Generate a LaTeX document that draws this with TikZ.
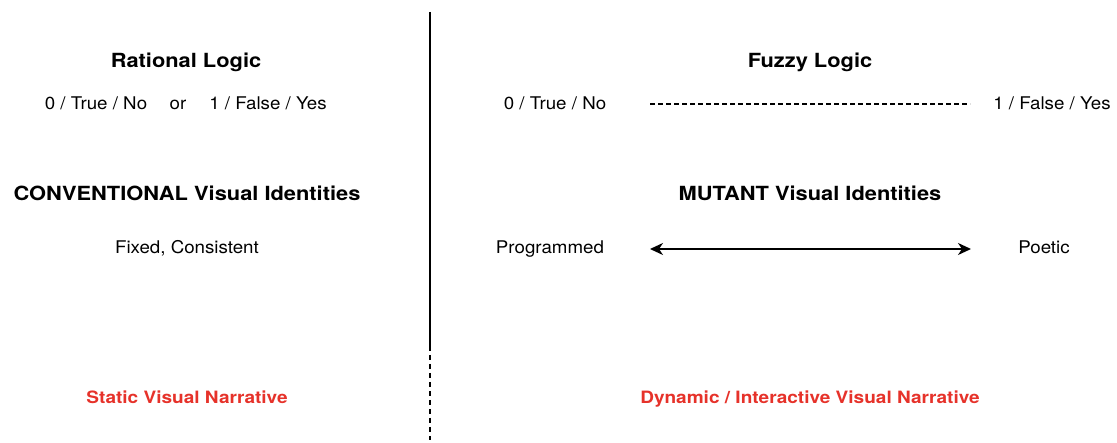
\documentclass[tikz,border=0pt]{standalone}
\usepackage{fontspec}
\setmainfont{TeX Gyre Heros}[FakeStretch=1.07,BoldFeatures={FakeStretch=1.12}]
\usetikzlibrary{arrows.meta}
\definecolor{narrred}{RGB}{230,50,42}
\tikzset{
  heading/.style={anchor=base,inner sep=0pt,font=\fontsize{19.5}{22}\selectfont\bfseries},
  plain/.style={anchor=base,inner sep=0pt,font=\fontsize{17.5}{20}\selectfont},
  narrative/.style={anchor=base,inner sep=0pt,text=narrred,font=\fontsize{17}{20}\selectfont\bfseries},
  divider/.style={line width=2pt},
  fuzzyline/.style={line width=1.5pt,dash pattern=on 5pt off 3pt},
  spectrum/.style={line width=2pt,{Stealth[length=13pt,width=12pt,inset=4pt]}-{Stealth[length=13pt,width=12pt,inset=4pt]}}
}
\begin{document}
\begin{tikzpicture}[x=1pt,y=-1pt]
\useasboundingbox (0,0) rectangle (1117,443);

% centre divider: solid, then dashed towards the narrative row
\coordinate (divtop) at (430,12);
\coordinate (divmid) at (430,351);
\coordinate (divdash) at (430,355);
\coordinate (divbot) at (430,440);
\draw[divider] (divtop) -- (divmid);
\draw[line width=2pt,dash pattern=on 5pt off 4pt] (divdash) -- (divbot);

% left column: rational logic
\node[heading] (rlogic) at (186,68) {Rational Logic};
\node[plain] (rzero) at (96,109.5) {0 / True / No};
\node[plain] (ror) at (178,109.5) {or};
\node[plain] (rone) at (268,109.5) {1 / False / Yes};
\node[heading] (conv) at (187,201) {CONVENTIONAL Visual Identities};
\node[plain] (fixed) at (187,254) {Fixed, Consistent};
\node[narrative] (static) at (187,403.5) {Static Visual Narrative};

% right column: fuzzy logic
\node[heading] (flogic) at (810,68) {Fuzzy Logic};
\node[plain] (fzero) at (555,109.5) {0 / True / No};
\node[plain] (fone) at (1052,109.5) {1 / False / Yes};
\coordinate (fzl) at (650,104);
\coordinate (fzr) at (970,104);
\draw[fuzzyline] (fzl) -- (fzr);

\node[heading] (mutant) at (810,201) {MUTANT Visual Identities};
\node[plain] (prog) at (550,254) {Programmed};
\node[plain] (poetic) at (1044,254) {Poetic};
\coordinate (spl) at (650,249);
\coordinate (spr) at (971,249);
\draw[spectrum] (spl) -- (spr);

\node[narrative] (dynamic) at (810,403.5) {Dynamic / Interactive Visual Narrative};
\end{tikzpicture}
\end{document}
